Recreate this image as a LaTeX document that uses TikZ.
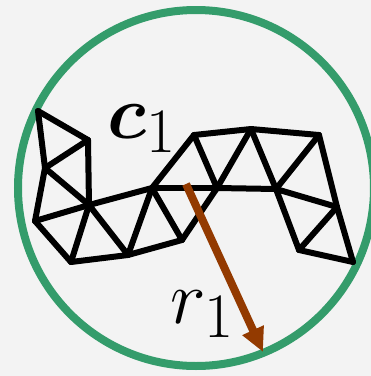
\documentclass[tikz,border=0pt]{standalone}
\usepackage{amsmath,bm}
\usetikzlibrary{arrows.meta}
\definecolor{bgc}{HTML}{F3F3F3}
\definecolor{ringc}{HTML}{349C6B}
\definecolor{arrowc}{HTML}{933A00}
\tikzset{
  mesh/.style={draw=black,line width=6pt,line cap=round,line join=round},
  ring/.style={draw=ringc,line width=8pt},
  radius arrow/.style={draw=arrowc,line width=8pt,-{Triangle[length=24pt,width=22pt]}},
  lab/.style={inner sep=0pt,text=black,anchor=base west,font=\Huge,scale=3.05,transform shape}
}
\begin{document}
\begin{tikzpicture}[x=1pt,y=-1pt]
\useasboundingbox (0,0) rectangle (371,376);
\fill[bgc] (0,0) rectangle (371,376);
\node[ring,circle,minimum size=356pt,inner sep=0pt,fill=none] (rim) at (196,188) {};
\foreach \n/\x/\y in {A/38/111,B/88/140,C/45/168,D/89/205,E/35/221,F/71/262,G/128/255,H/152/188,I/182/240,J/194/135,K/217/188,L/251/129,M/276/189,N/319/135,O/337/207,P/299/250,Q/353/262}
  \coordinate (\n) at (\x,\y);
\foreach \a/\b in {A/B,A/C,B/C,B/D,C/D,C/E,E/D,E/F,F/D,F/G,D/G,D/H,G/H,H/I,G/I,I/K,H/J,H/K,J/K,J/L,K/L,K/M,L/M,L/N,M/N,N/O,O/Q,M/O,M/P,O/P,P/Q}
  \draw[mesh] (\a) -- (\b);
\coordinate (cen) at (186,184);
\coordinate (tip) at (263,352);
\draw[radius arrow] (cen) -- (tip);
\node[lab] (c1) at (107,138) {$\bm{c}_1$};
\node[lab] (r1) at (170,323) {$r_1$};
\end{tikzpicture}
\end{document}
